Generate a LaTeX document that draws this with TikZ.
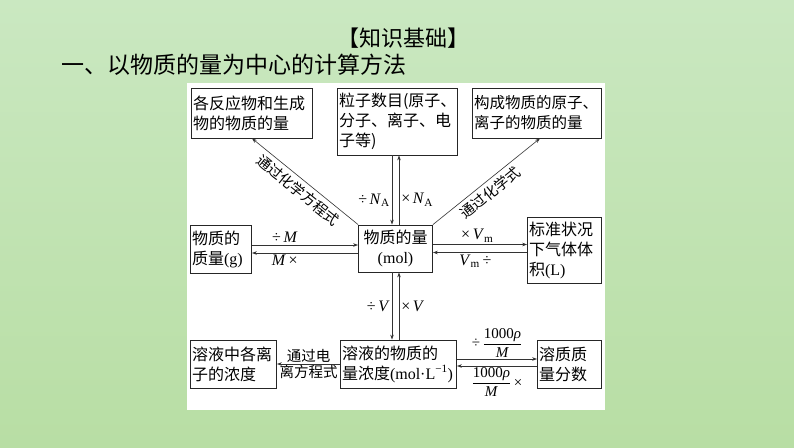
\documentclass[tikz,border=0pt]{standalone}
\usepackage{amsmath}
\usepackage{fontspec}
\setmainfont{Liberation Serif}
\newfontfamily\cjk{Noto Sans CJK SC}
\usetikzlibrary{arrows.meta}

\definecolor{bgtop}{RGB}{202,232,193}
\definecolor{bgbot}{RGB}{184,222,164}

\tikzset{
  box/.style={draw=black!85, line width=0.8pt, fill=white, inner sep=1.5pt,
    align=left, font=\cjk\fontsize{16}{20}\selectfont},
  arr/.style={-{Stealth[length=5pt,width=3.5pt]}, line width=0.6pt, draw=black!80},
  lab/.style={font=\fontsize{16}{18}\selectfont, inner sep=2pt},
  fraclab/.style={font=\fontsize{15}{17}\selectfont, inner sep=1pt},
  zh/.style={font=\cjk\fontsize{14.5}{15}\selectfont, inner sep=1pt}
}

\begin{document}
\begin{tikzpicture}[x=1pt,y=-1pt]
\shade[top color=bgtop, bottom color=bgbot] (0,0) rectangle (794,447);
\useasboundingbox (0,0) rectangle (794,447);
\fill[white] (187,83) rectangle (605,410);

% headings
\node[font=\cjk\fontsize{22}{22}\selectfont] (title) at (403,38) {【知识基础】};
\node[font=\cjk\fontsize{23}{23}\selectfont, anchor=west] (sub) at (58,65) {一、以物质的量为中心的计算方法};

% boxes
\node[box, text width=118pt, minimum height=50pt] (react) at (252,113) {各反应物和生成\\物的物质的量};
\node[box, text width=117pt, minimum height=67pt] (particle) at (397.5,121.5) {粒子数目(原子、\\分子、离子、电\\子等)};
\node[box, text width=126pt, minimum height=50pt, font=\cjk\fontsize{15.5}{20}\selectfont] (ion) at (537,113) {构成物质的原子、\\离子的物质的量};
\node[box, text width=71pt, minimum height=47pt, align=center] (mol) at (395.5,248.5) {物质的量\\{\rmfamily(mol)}};
\node[box, text width=58pt, minimum height=48pt] (mass) at (221,249) {物质的\\质量{\rmfamily(g)}};
\node[box, text width=71pt, minimum height=66pt] (gas) at (564.5,250) {标准状况\\下气体体\\积{\rmfamily(L)}};
\node[box, text width=113pt, minimum height=48pt] (conc) at (398.5,364) {溶液的物质的\\量浓度{\rmfamily(mol·L\textsuperscript{−1})}};
\node[box, text width=83pt, minimum height=48pt] (ionc) at (233.5,364) {溶液中各离\\子的浓度};
\node[box, text width=61pt, minimum height=48pt] (frac) at (569.5,364) {溶质质\\量分数};

% vertical pairs
\coordinate (dn) at ([xshift=-3.5pt]mol.north);
\coordinate (up) at ([xshift=3.5pt]mol.north);
\draw[arr] (dn |- particle.south) -- (dn) node[lab, left, pos=0.65] {÷\,\textit{N}\textsubscript{A}};
\draw[arr] (up) -- (up |- particle.south) node[lab, right, pos=0.36] {×\,\textit{N}\textsubscript{A}};

\coordinate (dn2) at ([xshift=-3.5pt]mol.south);
\coordinate (up2) at ([xshift=3.5pt]mol.south);
\draw[arr] (dn2) -- (dn2 |- conc.north) node[lab, left, midway] {÷\,\textit{V}};
\draw[arr] (up2 |- conc.north) -- (up2) node[lab, right, midway] {×\,\textit{V}};

% horizontal pairs
\coordinate (l1) at ([yshift=4pt]mass.east);
\coordinate (l2) at ([yshift=-4pt]mass.east);
\draw[arr] (l1) -- (l1 -| mol.west) node[lab, above, pos=0.31] {÷\,\textit{M}};
\draw[arr] (l2 -| mol.west) -- (l2) node[lab, below, pos=0.69] {\textit{M}\,×};

\coordinate (r1) at ([yshift=4pt]mol.east);
\coordinate (r2) at ([yshift=-4pt]mol.east);
\draw[arr] (r1) -- (r1 -| gas.west) node[lab, above, pos=0.47] {×\,\textit{V}\textsubscript{m}};
\draw[arr] (r2 -| gas.west) -- (r2) node[lab, below, pos=0.55] {\textit{V}\textsubscript{m}\,÷};

% diagonals
\draw[arr] (mol.north west) -- (react.south) node[zh, sloped, below, pos=0.5, inner sep=4pt] {通过化学方程式};
\draw[arr] (mol.north east) -- ([xshift=3pt]ion.south) node[zh, sloped, below, pos=0.47, inner sep=4pt] {通过化学式};

% bottom row
\draw[arr] (conc.west) -- (ionc.east) node[zh, above, midway] {通过电} node[zh, below, midway] {离方程式};

\coordinate (b1) at ([yshift=5pt]conc.east);
\coordinate (b2) at ([yshift=-2pt]conc.east);
\draw[arr] (b1) -- (b1 -| frac.west) node[fraclab, above, midway] {÷\,$\dfrac{\text{1000\textit{ρ}}}{\text{\textit{M}}}$};
\draw[arr] (b2 -| frac.west) -- (b2) node[fraclab, below, midway] {$\dfrac{\text{1000\textit{ρ}}}{\text{\textit{M}}}$\,×};
\end{tikzpicture}
\end{document}
